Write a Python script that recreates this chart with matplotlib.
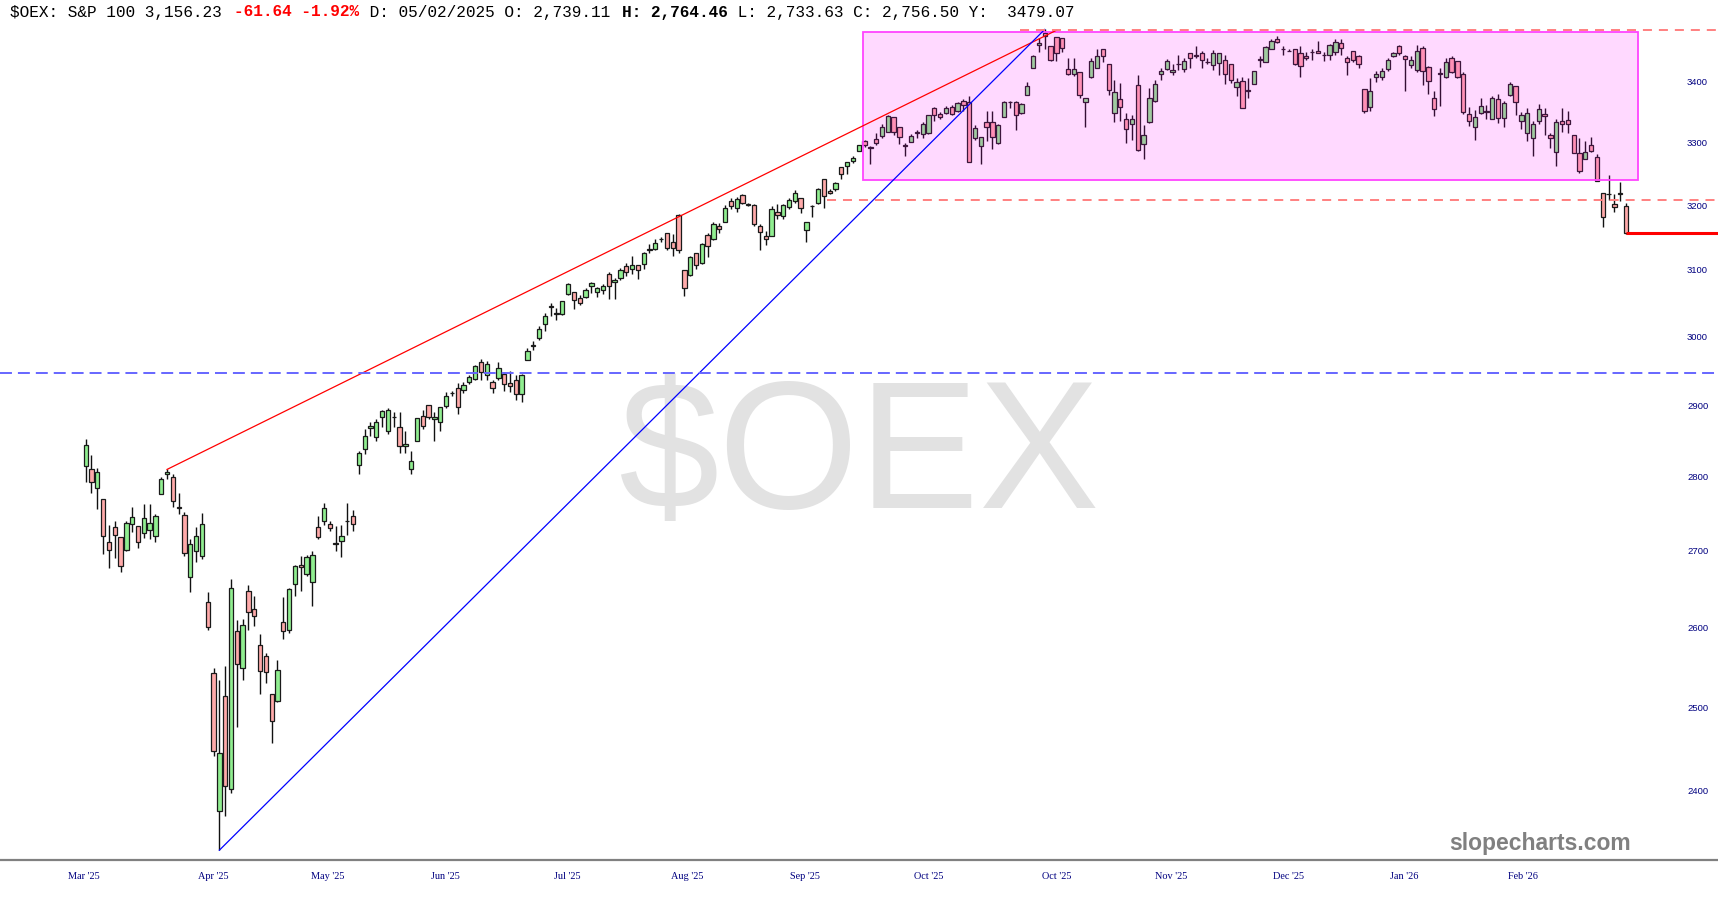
import numpy as np
import matplotlib
matplotlib.use("Agg")
from matplotlib import pyplot as plt
from matplotlib.patches import Rectangle
from matplotlib.ticker import NullLocator, NullFormatter

plt.rcParams["lines.scale_dashes"] = False

# daily OHLC (one value per candle, left to right)
opens = [
    2815, 2811, 2785, 2769, 2712, 2731, 2718, 2701, 2735, 2733,
    2724, 2728, 2719, 2776, 2803, 2800, 2758, 2748, 2665, 2700,
    2693, 2633, 2542, 2375, 2514, 2401, 2595, 2548, 2647, 2623,
    2577, 2563, 2516, 2507, 2607, 2597, 2656, 2681, 2669, 2658,
    2731, 2739.11, 2735, 2710, 2713, 2739, 2746, 2816, 2839, 2868,
    2855, 2884, 2863, 2884, 2869, 2842, 2810, 2849, 2885, 2901,
    2881, 2876, 2899, 2917, 2925, 2922, 2934, 2938, 2962, 2943,
    2933, 2939, 2945, 2932, 2937, 2916, 2965, 2986, 2997, 3018,
    3044, 3034, 3033, 3063, 3067, 3057, 3058, 3075, 3067, 3069,
    3094, 3081, 3087, 3106, 3101, 3108, 3109, 3132, 3132, 3147,
    3156, 3142, 3184, 3100, 3092, 3125, 3111, 3153, 3147, 3168,
    3174, 3207, 3196, 3216, 3202, 3200, 3167, 3152, 3152, 3189,
    3183, 3197, 3207, 3211, 3161, 3198, 3203, 3242, 3223, 3225,
    3261, 3262, 3271, 3286, 3303, 3293, 3306, 3311, 3318, 3342,
    3326, 3296, 3301, 3318, 3314, 3316, 3357, 3347, 3349, 3358,
    3352, 3368, 3366, 3308, 3295, 3333, 3333, 3300, 3342, 3366,
    3366, 3348, 3379, 3424, 3462, 3483, 3461, 3476, 3475, 3421,
    3413, 3417, 3366, 3408, 3424, 3456, 3431, 3349, 3372, 3339,
    3330, 3395, 3298, 3333, 3368, 3413, 3422, 3416, 3431, 3421,
    3449, 3445, 3448, 3434, 3429, 3432, 3437, 3430, 3392, 3402,
    3386, 3397, 3437, 3434, 3456, 3472, 3455, 3453, 3455, 3449,
    3444, 3450, 3453, 3446, 3446, 3451, 3466, 3441, 3453, 3443,
    3388, 3359, 3408, 3409, 3421, 3443, 3461, 3443, 3428, 3420,
    3457, 3425, 3374, 3414, 3408, 3440, 3435, 3414, 3347, 3326,
    3349, 3351, 3339, 3372, 3340, 3378, 3394, 3336, 3315, 3308,
    3335, 3347, 3312, 3285, 3335, 3337, 3312, 3284, 3274, 3296,
    3277, 3220, 3218, 3202, 3220, 3199,
]
highs = [
    2853, 2830, 2812, 2770, 2734, 2739, 2718, 2739, 2759, 2733,
    2763, 2763, 2749, 2800, 2810, 2803, 2778, 2752, 2715, 2731,
    2750, 2646, 2548, 2534, 2551, 2662, 2610, 2611, 2655, 2641,
    2591, 2567, 2516, 2558, 2639, 2651, 2681, 2693, 2694, 2700,
    2746, 2764.46, 2739, 2733, 2734, 2764, 2754, 2835, 2866, 2876,
    2881, 2893, 2896, 2890, 2890, 2863, 2836, 2882, 2894, 2901,
    2890, 2898, 2919, 2920, 2932, 2933, 2944, 2958, 2967, 2964,
    2936, 2962, 2948, 2949, 2944, 2945, 2983, 2993, 3016, 3035,
    3050, 3042, 3052, 3080, 3067, 3062, 3072, 3082, 3074, 3078,
    3096, 3087, 3103, 3111, 3121, 3108, 3127, 3139, 3147, 3150,
    3156, 3155, 3186, 3100, 3121, 3125, 3141, 3157, 3174, 3172,
    3200, 3212, 3213, 3217, 3204, 3202, 3170, 3160, 3199, 3202,
    3202, 3211, 3224, 3212, 3174, 3200, 3228, 3242, 3225, 3237,
    3261, 3269, 3279, 3297, 3305, 3294, 3315, 3331, 3346, 3342,
    3326, 3299, 3314, 3320, 3333, 3346, 3358, 3350, 3360, 3361,
    3366, 3371, 3376, 3329, 3310, 3352, 3351, 3331, 3368, 3369,
    3368, 3365, 3400, 3445, 3474, 3490, 3461, 3476, 3475, 3440,
    3440, 3417, 3374, 3440, 3456, 3456, 3431, 3403, 3398, 3348,
    3346, 3412, 3329, 3390, 3403, 3423, 3439, 3431, 3446, 3441,
    3449, 3461, 3452, 3441, 3454, 3448, 3445, 3430, 3407, 3408,
    3406, 3418, 3443, 3461, 3472, 3478, 3461, 3456, 3455, 3460,
    3450, 3456, 3470, 3450, 3464, 3472, 3472, 3443, 3453, 3446,
    3389, 3406, 3419, 3424, 3441, 3451, 3462, 3446, 3443, 3462,
    3460, 3426, 3385, 3423, 3441, 3443, 3435, 3417, 3359, 3354,
    3373, 3362, 3377, 3380, 3368, 3400, 3394, 3350, 3357, 3335,
    3364, 3357, 3316, 3338, 3357, 3352, 3312, 3308, 3302, 3310,
    3282, 3220, 3248, 3217, 3237, 3204,
]
lows = [
    2792, 2777, 2756, 2695, 2677, 2690, 2672, 2699, 2725, 2704,
    2717, 2716, 2712, 2776, 2797, 2758, 2749, 2693, 2645, 2685,
    2689, 2597, 2440, 2330, 2370, 2396, 2476, 2533, 2596, 2602,
    2516, 2530, 2456, 2506, 2585, 2593, 2641, 2647, 2666, 2628,
    2715, 2733.63, 2726, 2700, 2692, 2721, 2726, 2803, 2832, 2857,
    2850, 2869, 2860, 2869, 2833, 2833, 2804, 2849, 2866, 2880,
    2849, 2864, 2896, 2913, 2888, 2917, 2930, 2936, 2937, 2937,
    2918, 2936, 2920, 2919, 2908, 2905, 2965, 2980, 2994, 3008,
    3030, 3025, 3032, 3062, 3040, 3046, 3057, 3064, 3059, 3063,
    3056, 3056, 3085, 3090, 3094, 3086, 3101, 3126, 3131, 3142,
    3130, 3121, 3125, 3060, 3090, 3101, 3109, 3120, 3146, 3157,
    3173, 3194, 3190, 3202, 3199, 3167, 3130, 3138, 3152, 3178,
    3178, 3194, 3204, 3187, 3143, 3182, 3202, 3196, 3217, 3223,
    3242, 3250, 3267, 3286, 3293, 3265, 3297, 3308, 3317, 3312,
    3298, 3278, 3301, 3308, 3308, 3314, 3335, 3338, 3347, 3346,
    3350, 3352, 3268, 3305, 3266, 3303, 3290, 3298, 3342, 3356,
    3320, 3347, 3378, 3424, 3450, 3455, 3435, 3435, 3450, 3412,
    3410, 3373, 3325, 3407, 3423, 3433, 3378, 3334, 3335, 3300,
    3305, 3286, 3274, 3332, 3366, 3403, 3420, 3412, 3420, 3417,
    3423, 3440, 3424, 3430, 3420, 3412, 3396, 3398, 3377, 3357,
    3373, 3397, 3425, 3433, 3455, 3466, 3446, 3452, 3429, 3409,
    3437, 3437, 3448, 3435, 3437, 3445, 3445, 3411, 3433, 3424,
    3349, 3351, 3400, 3403, 3418, 3442, 3446, 3385, 3424, 3417,
    3395, 3380, 3343, 3360, 3407, 3415, 3407, 3347, 3327, 3305,
    3347, 3338, 3338, 3332, 3326, 3376, 3346, 3323, 3303, 3278,
    3331, 3313, 3292, 3262, 3318, 3315, 3283, 3251, 3273, 3285,
    3238, 3166, 3209, 3190, 3207, 3155,
]
closes = [
    2844, 2792, 2806, 2719, 2701, 2721, 2679, 2737, 2745, 2711,
    2743, 2737, 2747, 2797, 2806, 2766, 2757, 2697, 2709, 2720,
    2736, 2601, 2446, 2444, 2405, 2651, 2554, 2603, 2620, 2615,
    2545, 2544, 2483, 2546, 2595, 2650, 2680, 2678, 2692, 2694,
    2718, 2756.50, 2730, 2709, 2720, 2740, 2736, 2833, 2857, 2871,
    2876, 2892, 2894, 2883, 2842, 2845, 2821, 2882, 2870, 2884,
    2883, 2898, 2913, 2918, 2897, 2929, 2940, 2956, 2948, 2959,
    2925, 2954, 2931, 2927, 2916, 2944, 2978, 2988, 3011, 3030,
    3045, 3035, 3052, 3079, 3054, 3049, 3070, 3080, 3072, 3075,
    3075, 3085, 3099, 3097, 3108, 3099, 3126, 3130, 3141, 3148,
    3134, 3134, 3130, 3072, 3119, 3108, 3139, 3136, 3171, 3163,
    3196, 3199, 3210, 3203, 3201, 3171, 3158, 3147, 3194, 3184,
    3200, 3208, 3219, 3195, 3174, 3199, 3225, 3214, 3219, 3235,
    3249, 3268, 3275, 3297, 3296, 3292, 3300, 3325, 3344, 3318,
    3309, 3295, 3311, 3316, 3331, 3345, 3345, 3342, 3357, 3347,
    3365, 3362, 3268, 3324, 3309, 3326, 3309, 3328, 3366, 3367,
    3346, 3364, 3393, 3444, 3466, 3478, 3437, 3448, 3458, 3413,
    3421, 3379, 3373, 3435, 3444, 3444, 3386, 3384, 3358, 3323,
    3339, 3288, 3313, 3373, 3396, 3419, 3436, 3420, 3431, 3436,
    3440, 3444, 3437, 3434, 3448, 3448, 3413, 3403, 3400, 3357,
    3385, 3418, 3438, 3459, 3470, 3467, 3455, 3452, 3430, 3426,
    3440, 3451, 3449, 3446, 3462, 3468, 3458, 3433, 3437, 3431,
    3351, 3385, 3413, 3418, 3437, 3449, 3448, 3438, 3437, 3452,
    3419, 3402, 3355, 3415, 3433, 3417, 3408, 3350, 3335, 3342,
    3360, 3350, 3373, 3341, 3365, 3396, 3366, 3345, 3348, 3331,
    3355, 3344, 3308, 3334, 3331, 3331, 3284, 3254, 3285, 3286,
    3239, 3181, 3217, 3197, 3217.87, 3156.23,
]

month_labels = ["Mar '25", "Apr '25", "May '25", "Jun '25", "Jul '25", "Aug '25",
                "Sep '25", "Oct '25", "Oct '25", "Nov '25", "Dec '25", "Jan '26", "Feb '26"]
month_ticks = [-0.4, 22.0, 41.7, 61.9, 82.8, 103.4, 123.8, 145.1, 167.0, 186.8, 207.0, 226.9, 247.3]
price_ticks = [2400, 2500, 2600, 2700, 2800, 2900, 3000, 3100, 3200, 3300, 3400]

# drawings on the chart: (bar index, price)
red_trend_x = [14, 167.1]
red_trend_y = [2810, 3488]
blue_trend_x = [23, 165.0]
blue_trend_y = [2330, 3489]
range_box = [133.8, 3240, 267.0, 3484]   # left, bottom, right, top
top_level = [160.7, 3488]
break_level = [127.5, 3208.4]
support_level = 2946.8
last_close = 3156.23

header_parts = [
    ("$OEX: S&P 100 3,156.23 ", "black", "normal"),
    ("-61.64 -1.92%", "#ff0000", "bold"),
    (" D: 05/02/2025 O: 2,739.11 ", "black", "normal"),
    ("H: 2,764.46", "black", "bold"),
    (" L: 2,733.63 C: 2,756.50 Y:  3479.07", "black", "normal"),
]

W, H = 1718, 900
fig = plt.figure(figsize=(W / 100, H / 100), dpi=100, facecolor="white")
ax = fig.add_axes([0, 40 / H, 1, 860 / H])
ax.set_facecolor("white")

o = np.array(opens, dtype=float)
h = np.array(highs, dtype=float)
l = np.array(lows, dtype=float)
c = np.array(closes, dtype=float)
x = np.arange(len(o))

ax.set_yscale("log")
xmax = 280.83
ax.set_xlim(-14.74, xmax)
ax.set_ylim(2318.8, 3539.9)

# watermark
ax.text(858.5 / W, 1 - 508 / H, "\\$OEX", transform=fig.transFigure, ha="center",
        va="baseline", fontsize=130, family="Liberation Sans", color="#e2e2e2", zorder=0)

# candles
up = c >= o
colors = np.where(up, "#90ee90", "#ffaaaa")
ax.vlines(x, l, h, color="#111111", linewidth=1.0, zorder=2)
ax.bar(x, np.abs(c - o), bottom=np.minimum(o, c), width=0.74, color=colors,
       edgecolor="#1a1a1a", linewidth=0.9, zorder=3)

# range box
bx0, by0, bx1, by1 = range_box
ax.add_patch(Rectangle((bx0, by0), bx1 - bx0, by1 - by0, facecolor=(1, 0, 1, 0.15),
                       edgecolor="#ff44ff", linewidth=1.3, zorder=4))

# trend lines and levels
ax.plot(red_trend_x, red_trend_y, color="#ff0000", linewidth=0.9, zorder=5)
ax.plot(blue_trend_x, blue_trend_y, color="#0000ff", linewidth=0.9, zorder=5)
ax.hlines(top_level[1], top_level[0], xmax, color="#ff8080", linewidth=1.4,
          linestyles=(0, (6.5, 5)), zorder=5)
ax.hlines(break_level[1], break_level[0], xmax, color="#ff8080", linewidth=1.4,
          linestyles=(0, (6.5, 5)), zorder=5)
ax.hlines(support_level, -14.74, xmax, color="#6666ff", linewidth=1.4,
          linestyles=(0, (8.6, 4.3)), zorder=5)
ax.hlines(last_close, x[-1], xmax, color="#ff0000", linewidth=2.2, zorder=6)

# axes styling
for side in ("top", "left", "right"):
    ax.spines[side].set_visible(False)
ax.spines["bottom"].set_color("#808080")
ax.spines["bottom"].set_linewidth(1.6)

ax.yaxis.tick_right()
ax.yaxis.set_minor_locator(NullLocator())
ax.yaxis.set_minor_formatter(NullFormatter())
ax.set_yticks(price_ticks, [str(p) for p in price_ticks])
ax.tick_params(axis="y", length=0, pad=-22.3, labelsize=6.8, labelcolor="#000080")
for lab in ax.get_yticklabels():
    lab.set_family("Liberation Sans")

ax.set_xticks(month_ticks, month_labels)
ax.tick_params(axis="x", length=0, pad=8.6, labelsize=7.4, labelcolor="#000080")
for lab in ax.get_xticklabels():
    lab.set_family("Liberation Serif")

# header line
cw = 9.7 / W
pos = 0
for text, color, weight in header_parts:
    fig.text(10.5 / W + pos * cw, 1 - 12 / H, text.replace("$", "\\$"), ha="left",
             va="center", family="Liberation Mono", fontsize=11.64, color=color,
             fontweight=weight)
    pos += len(text)

fig.text(1540 / W, 1 - 850 / H, "slopecharts.com", ha="center", va="baseline",
         family="Liberation Sans", fontweight="bold", fontsize=16.5, color="#808080")

fig.savefig("out.png", dpi=100, facecolor="white")
